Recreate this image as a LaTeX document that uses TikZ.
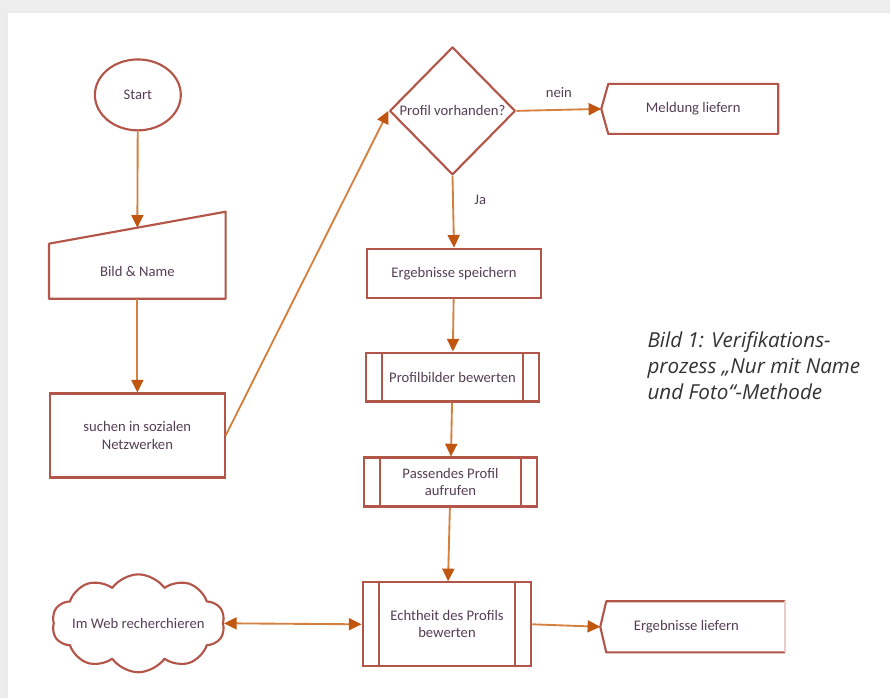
\documentclass[tikz,border=0pt]{standalone}
\usepackage{fontspec}
\setmainfont{Carlito}
\newfontfamily\capfont{Open Sans}
\usetikzlibrary{arrows.meta,positioning,shapes.geometric,shapes.symbols,calc}

\definecolor{shapered}{HTML}{B4554A}
\definecolor{lineorange}{HTML}{D4803F}
\definecolor{tiporange}{HTML}{C0560F}
\definecolor{txtpurple}{HTML}{563F55}
\definecolor{framegray}{HTML}{EDEDED}

\tikzset{
  chartfont/.style={font=\fontsize{11}{13}\selectfont, text=txtpurple},
  box/.style={rectangle, draw=shapered, line width=1.6pt, minimum width=131pt,
    minimum height=36.75pt, inner sep=2pt, align=center, chartfont},
  subproc/.style={box, path picture={
      \draw[shapered, line width=1.6pt]
        ([xshift=12pt]path picture bounding box.north west) -- ([xshift=12pt]path picture bounding box.south west)
        ([xshift=-12pt]path picture bounding box.north east) -- ([xshift=-12pt]path picture bounding box.south east);
    }},
  outline/.style={draw=shapered, line width=1.6pt, line join=round},
  plain/.style={inner sep=0pt, align=center, chartfont},
  tip/.style={Triangle[length=9.5pt,width=9pt,color=tiporange]},
  flow/.style={draw=lineorange, line width=1.4pt, -{Triangle[length=9.5pt,width=9pt,color=tiporange]}},
  capt/.style={inner sep=0pt, align=left, text=black!80,
    font=\capfont\itshape\fontsize{15.5}{19.5}\selectfont}
}

\begin{document}
\begin{tikzpicture}[x=0.75pt, y=-0.75pt]
  % frame
  \fill[framegray] (0,0) rectangle (891,699);
  \fill[white] (7,12) rectangle (891,699);
  \draw[black!8, line width=1.5pt] (7,699) -- (7,12) -- (891,12);

  % left column
  \node[ellipse, outline, minimum width=64.5pt, minimum height=53.25pt, chartfont] (start) at (138,95) {Start};
  \node[box, draw=none, minimum height=39.75pt] (input) at (137.5,271.5) {Bild \& Name};
  \draw[outline] (input.south west) -- (input.south east) -- ([yshift=24pt]input.north east)
    -- (input.north west) -- cycle;
  \coordinate (intop) at ([yshift=12pt]input.north);
  \node[box, minimum height=63pt] (search) at (137.5,436) {suchen in sozialen\\Netzwerken};
  \node[cloud, cloud puffs=10, cloud puff arc=110, aspect=1.8, outline,
    minimum width=129.75pt, minimum height=73.5pt, inner sep=0pt] (web) at (138.5,624) {};
  \node[plain] (webtext) at (web) {Im Web recherchieren};

  % middle column
  \node[diamond, outline, minimum width=94.5pt, minimum height=96pt, inner sep=0pt] (check) at (453,111) {};
  \node[plain] (checktext) at (check) {Profil vorhanden?};
  \node[box] (save) at (454.5,273.5) {Ergebnisse speichern};
  \node[subproc, minimum width=130.5pt] (rate) at (453,377.5) {Profilbilder bewerten};
  \node[subproc, minimum width=130.5pt] (open) at (451,482.5) {Passendes Profil\\aufrufen};
  \node[subproc, minimum width=126.75pt, minimum height=63pt] (verify) at (447.5,625) {Echtheit des Profils\\bewerten};

  % right column
  \node[box, draw=none, minimum width=126pt, minimum height=36pt] (notice) at (694,109) {Meldung liefern};
  \coordinate (noticetip) at ([xshift=-5.25pt]notice.west);
  \draw[outline] (notice.north west) -- (notice.north east) -- (notice.south east)
    -- (notice.south west) -- (noticetip) -- cycle;
  \node[box, draw=none, minimum width=132.75pt] (result) at (696.5,627.5) {};
  \node[plain] (resulttext) at ([xshift=-7pt]result.center) {Ergebnisse liefern};
  \coordinate (resulttip) at ([xshift=-4.5pt]result.west);
  \draw[outline] (result.north east) -- (result.north west) -- (resulttip)
    -- (result.south west) -- (result.south east);
  \draw[shapered!30, line width=1.6pt] (result.north east) -- (result.south east);

  \node[capt, anchor=base west] (caption) at (648,400)
    {Bild 1: Verifikations-\\prozess „Nur mit Name\\und Foto“-Methode};

  % connectors
  \draw[flow] (start) -- (intop);
  \draw[flow] (input) -- (search);
  \draw[flow] (search.east) -- (check.west);
  \draw[flow] (check.east) -- node[chartfont, above=5pt] (nolabel) {nein} (noticetip);
  \draw[flow] (check.south) -- node[chartfont, right=12pt, pos=0.34] (yeslabel) {Ja} (save.north);
  \draw[flow] (save) -- (rate);
  \draw[flow] (rate) -- (open);
  \draw[flow] (open) -- (verify);
  \draw[flow] (verify.east) -- (resulttip);
  \draw[flow, {Triangle[length=9.5pt,width=9pt,color=tiporange]}-{Triangle[length=9.5pt,width=9pt,color=tiporange]}]
    (web.east) -- (verify.west);
\end{tikzpicture}
\end{document}
